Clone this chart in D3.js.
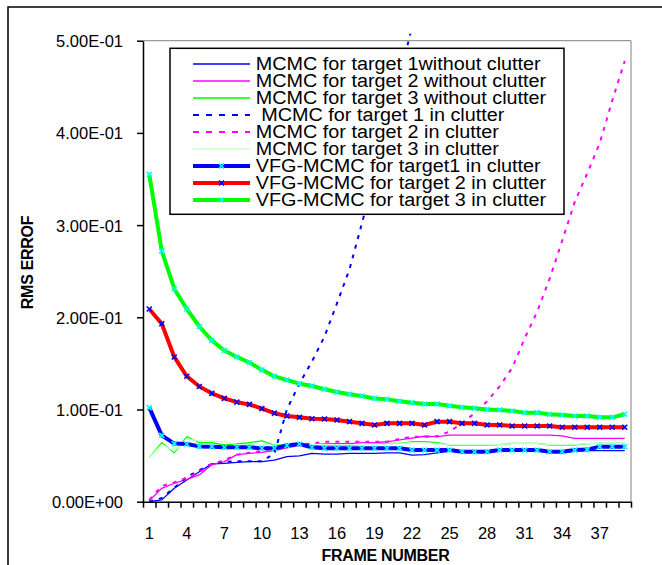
<!DOCTYPE html>
<html>
<head>
    <title>RMS error per frame</title>
    <style>
        body { margin: 0; background: #fff; }
        text { font-family: "Liberation Sans", Arial, sans-serif; fill: #000; }
    </style>
</head>
<body>
    <svg width="662" height="565"></svg>

    <script src="https://cdn.jsdelivr.net/npm/d3@7/dist/d3.min.js"></script>
    <script>
        // frame numbers on the category axis, only every 3rd one is labelled
        const frames = d3.range(1, 40);
        const frameLabels = [1, 4, 7, 10, 13, 16, 19, 22, 25, 28, 31, 34, 37];
        const yTicks = [0, 0.1, 0.2, 0.3, 0.4, 0.5];

        const seriesNames = [
            "MCMC for target 1without clutter",
            "MCMC for target 2 without clutter",
            "MCMC for target 3 without clutter",
            " MCMC for target 1 in clutter",
            "MCMC for target 2 in clutter",
            "MCMC for target 3 in clutter",
            "VFG-MCMC for target1 in clutter",
            "VFG-MCMC for target 2 in clutter",
            "VFG-MCMC for target 3 in clutter"
        ];

        const mcmc1Clean = [0.000, 0.002, 0.0145, 0.0235, 0.0325, 0.041, 0.0416, 0.0427, 0.0434, 0.0434,
            0.0452, 0.0488, 0.0496, 0.0525, 0.0517, 0.0517, 0.0525, 0.0525, 0.0525, 0.053,
            0.053, 0.0506, 0.051, 0.053, 0.0545, 0.0545, 0.055, 0.055, 0.0555, 0.0555,
            0.0555, 0.0555, 0.0555, 0.0555, 0.0555, 0.0555, 0.0555, 0.0555, 0.0555];
        const mcmc2Clean = [0.001, 0.0145, 0.02, 0.0243, 0.029, 0.040, 0.0434, 0.051, 0.0525, 0.0535,
            0.0555, 0.0585, 0.061, 0.0615, 0.0626, 0.063, 0.063, 0.064, 0.064, 0.065,
            0.067, 0.069, 0.071, 0.0705, 0.0723, 0.0723, 0.0723, 0.0723, 0.0723, 0.0723,
            0.0723, 0.0723, 0.0723, 0.0715, 0.0687, 0.0687, 0.0687, 0.0687, 0.0687];
        const mcmc3Clean = [0.048, 0.064, 0.053, 0.0705, 0.064, 0.064, 0.0615, 0.0626, 0.064, 0.066,
            0.0615, 0.061, 0.061, 0.061, 0.0615, 0.0615, 0.0615, 0.062, 0.0625, 0.0633,
            0.0633, 0.065, 0.065, 0.064, 0.0615, 0.0615, 0.0615, 0.0615, 0.062, 0.0633,
            0.0633, 0.0633, 0.0615, 0.0615, 0.0615, 0.063, 0.0633, 0.0633, 0.0633];
        // target 1 in clutter leaves the chart after frame 22
        const mcmc1Clutter = [0.0, 0.004, 0.015, 0.027, 0.034, 0.041, 0.043, 0.044, 0.044, 0.044,
            0.052, 0.100, 0.128, 0.152, 0.179, 0.215, 0.252, 0.302, 0.355, 0.41,
            0.46, 0.515, 0.57];
        const mcmc2Clutter = [0.002, 0.017, 0.021, 0.026, 0.032, 0.041, 0.045, 0.051, 0.053, 0.055,
            0.058, 0.0605, 0.062, 0.063, 0.065, 0.065, 0.065, 0.065, 0.065, 0.065,
            0.068, 0.0705, 0.0705, 0.071, 0.076, 0.085, 0.096, 0.109, 0.125, 0.145,
            0.177, 0.206, 0.242, 0.283, 0.325, 0.356, 0.389, 0.435, 0.478];
        const mcmc3Clutter = [0.048, 0.062, 0.055, 0.068, 0.066, 0.066, 0.065, 0.062, 0.062, 0.062,
            0.061, 0.061, 0.0615, 0.062, 0.062, 0.062, 0.062, 0.062, 0.062, 0.0625,
            0.063, 0.064, 0.064, 0.063, 0.062, 0.062, 0.062, 0.062, 0.062, 0.063,
            0.063, 0.063, 0.062, 0.062, 0.062, 0.063, 0.063, 0.063, 0.063];
        const vfg1 = [0.102, 0.072, 0.063, 0.0626, 0.060, 0.0597, 0.059, 0.059, 0.059, 0.058,
            0.058, 0.061, 0.0626, 0.059, 0.058, 0.058, 0.058, 0.058, 0.058, 0.058,
            0.058, 0.056, 0.056, 0.056, 0.056, 0.0542, 0.0542, 0.0542, 0.056, 0.056,
            0.056, 0.056, 0.0542, 0.0542, 0.056, 0.0565, 0.0597, 0.0597, 0.0597];
        const vfg2 = [0.209, 0.193, 0.157, 0.136, 0.125, 0.1175, 0.112, 0.108, 0.1055, 0.101,
            0.096, 0.093, 0.0915, 0.090, 0.0897, 0.0886, 0.0868, 0.085, 0.0832, 0.085,
            0.085, 0.085, 0.0832, 0.0868, 0.0868, 0.085, 0.085, 0.0832, 0.0832, 0.0821,
            0.0821, 0.0821, 0.0821, 0.0807, 0.0807, 0.0807, 0.0807, 0.0807, 0.0807];
        const vfg3 = [0.355, 0.272, 0.231, 0.209, 0.190, 0.175, 0.164, 0.157, 0.151, 0.143,
            0.136, 0.132, 0.128, 0.1255, 0.122, 0.119, 0.1165, 0.1146, 0.112, 0.111,
            0.109, 0.1074, 0.106, 0.106, 0.104, 0.1024, 0.1013, 0.100, 0.0995, 0.0984,
            0.0966, 0.0966, 0.0948, 0.094, 0.093, 0.093, 0.0915, 0.0915, 0.0948];

        const allValues = [mcmc1Clean, mcmc2Clean, mcmc3Clean, mcmc1Clutter, mcmc2Clutter,
            mcmc3Clutter, vfg1, vfg2, vfg3];

        // drawing style per series, in Excel's draw order
        const styles = [
            { color: "#0000ff", width: 1.3 },
            { color: "#ff00ff", width: 1.3 },
            { color: "#00ff00", width: 1.3 },
            { color: "#0000ff", width: 2, dash: "4,6" },
            { color: "#ff00ff", width: 2, dash: "4,6" },
            { color: "#ccffcc", width: 1.3 },
            { color: "#0000ff", width: 4, marker: "#00ffff" },
            { color: "#ff0000", width: 4, marker: "#0000ff" },
            { color: "#00ff00", width: 4, marker: "#00ffff" }
        ];

        const svg = d3.select("svg");
        const plotLeft = 143, plotRight = 631, plotTop = 40.7, plotBottom = 501.7;

        const x = d3.scaleBand().domain(frames).range([plotLeft, plotRight]);
        const xc = d => x(d) + x.bandwidth() / 2;
        const xEdge = d3.scaleLinear().domain([0, frames.length]).range([plotLeft, plotRight]);
        const y = d3.scaleLinear().domain([0, 0.5]).range([plotBottom, plotTop]);

        function sci(d) {
            if (d === 0) return "0.00E+00";
            const parts = d.toExponential(2).split("e");
            const e = +parts[1];
            return parts[0] + "E" + (e < 0 ? "-" : "+") + String(Math.abs(e)).padStart(2, "0");
        }

        // outer chart frame (only top and left edges fall inside the picture)
        svg.append("rect")
            .attr("x", 8).attr("y", 7).attr("width", 700).attr("height", 600)
            .attr("fill", "none").attr("stroke", "#000").attr("stroke-width", 1.5);

        // plot area border
        svg.append("path")
            .attr("d", `M${plotLeft},${plotTop}H${plotRight}V${plotBottom}`)
            .attr("fill", "none").attr("stroke", "#808080").attr("stroke-width", 1);

        svg.append("defs").append("clipPath").attr("id", "plotClip")
            .append("rect")
            .attr("x", plotLeft).attr("y", plotTop - 7)
            .attr("width", plotRight - plotLeft).attr("height", plotBottom - plotTop + 7);

        const plot = svg.append("g").attr("clip-path", "url(#plotClip)");

        allValues.forEach((vals, i) => {
            const s = styles[i];
            const pts = vals.map((v, j) => ({ f: frames[j], v: v }));
            const line = d3.line().x(d => xc(d.f)).y(d => y(d.v));

            plot.append("path")
                .attr("d", line(pts))
                .attr("fill", "none")
                .attr("stroke", s.color)
                .attr("stroke-width", s.width)
                .attr("stroke-dasharray", s.dash || null)
                .attr("stroke-linejoin", "round");

            if (s.marker) {
                plot.selectAll(null)
                    .data(pts)
                    .enter().append("path")
                    .attr("transform", d => `translate(${xc(d.f)},${y(d.v)})`)
                    .attr("d", "M-2.5,-2.5L2.5,2.5M-2.5,2.5L2.5,-2.5")
                    .attr("stroke", s.marker)
                    .attr("stroke-width", 1.6);
            }
        });

        // y axis
        const yAxis = svg.append("g")
            .attr("transform", `translate(${plotLeft},0)`)
            .call(d3.axisLeft(y).tickValues(yTicks).tickFormat(sci)
                .tickSize(6).tickSizeOuter(0).tickPadding(14));
        yAxis.selectAll("path, line").attr("stroke", "#000").attr("stroke-width", 1.5);
        yAxis.selectAll("text")
            .attr("font-size", 16.5).attr("font-family", null).attr("fill", "#000")
            .attr("dy", "0.36em");

        // x axis: ticks at category edges, labels at category centres
        const xTicks = svg.append("g")
            .attr("transform", `translate(0,${plotBottom})`)
            .call(d3.axisBottom(xEdge).tickValues(d3.range(0, frames.length + 1))
                .tickFormat("").tickSize(6).tickSizeOuter(0));
        xTicks.selectAll("path, line").attr("stroke", "#000").attr("stroke-width", 1.5);

        const xLabels = svg.append("g")
            .attr("transform", `translate(0,${plotBottom})`)
            .call(d3.axisBottom(x).tickValues(frameLabels).tickSize(0));
        xLabels.select(".domain").remove();
        xLabels.selectAll("text")
            .attr("font-size", 16.5).attr("font-family", null).attr("fill", "#000")
            .attr("y", 37).attr("dy", 0);

        // axis titles
        svg.append("text")
            .attr("x", 385.5).attr("y", 561)
            .attr("text-anchor", "middle")
            .attr("font-size", 16).attr("font-weight", "bold")
            .attr("letter-spacing", -0.3)
            .text("FRAME NUMBER");

        svg.append("text")
            .attr("transform", "translate(32.5,262.5) rotate(-90)")
            .attr("text-anchor", "middle")
            .attr("font-size", 16).attr("font-weight", "bold")
            .attr("letter-spacing", -0.3)
            .text("RMS ERROF");

        // legend
        const legend = svg.append("g");
        legend.append("rect")
            .attr("x", 170).attr("y", 48.3).attr("width", 394).attr("height", 166)
            .attr("fill", "#fff").attr("stroke", "#000").attr("stroke-width", 1.5);

        seriesNames.forEach((name, i) => {
            const s = styles[i];
            const base = 70 + i * 17;
            legend.append("line")
                .attr("x1", 193).attr("x2", 250)
                .attr("y1", base - 6).attr("y2", base - 6)
                .attr("stroke", s.color)
                .attr("stroke-width", s.width)
                .attr("stroke-dasharray", s.dash ? "6,7" : null);
            if (s.marker) {
                legend.append("path")
                    .attr("transform", `translate(221.5,${base - 6})`)
                    .attr("d", "M-2.5,-2.5L2.5,2.5M-2.5,2.5L2.5,-2.5")
                    .attr("stroke", s.marker).attr("stroke-width", 1.6);
            }
            const t = legend.append("text")
                .attr("x", 255.7).attr("y", base)
                .attr("font-size", 18)
                .style("white-space", "pre")
                .text(name);
            const w = t.node().getComputedTextLength();
            t.attr("textLength", w * 1.1).attr("lengthAdjust", "spacingAndGlyphs");
        });
    </script>
</body>
</html>
